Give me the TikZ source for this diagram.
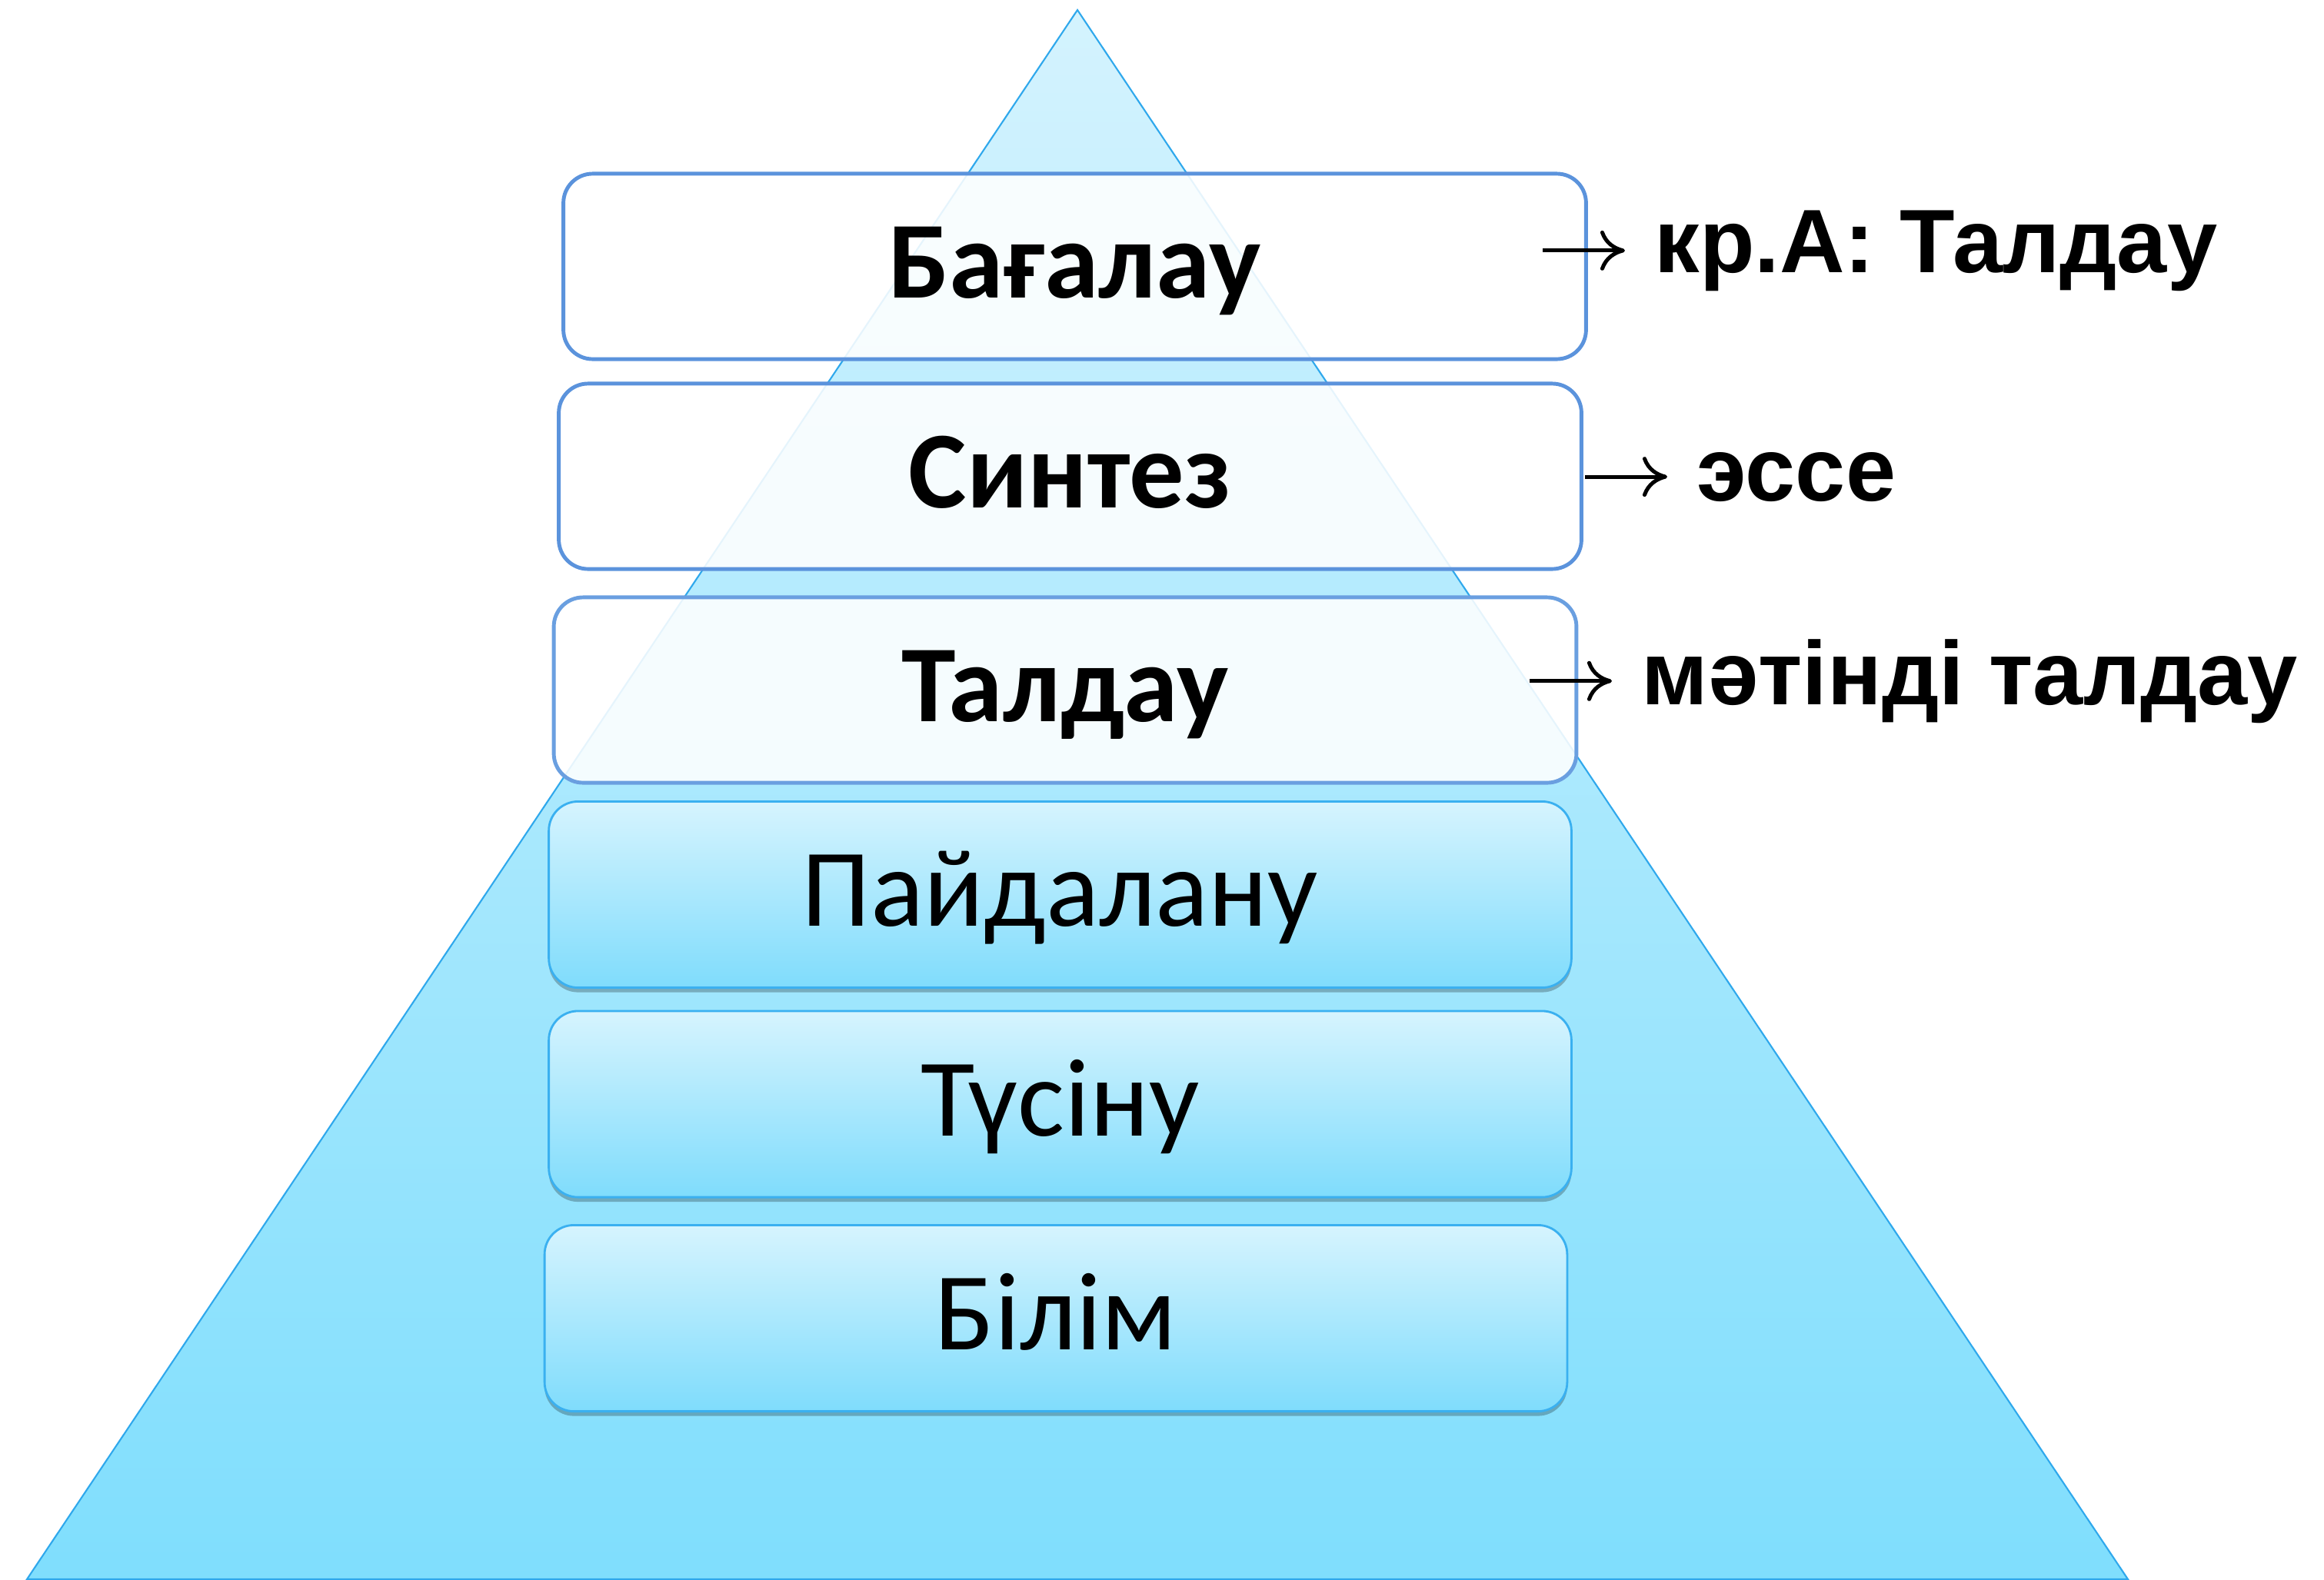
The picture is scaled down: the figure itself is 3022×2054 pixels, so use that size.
\documentclass[tikz,border=0pt]{standalone}
\usepackage{fontspec}
\setmainfont{Carlito}
\newfontfamily\labfont{Liberation Sans}
\usetikzlibrary{arrows.meta,shadows}
\definecolor{tritop}{HTML}{D4F3FE}
\definecolor{tribot}{HTML}{7FDEFD}
\definecolor{triedge}{HTML}{2FA8EC}
\definecolor{upedge}{HTML}{5B93DC}
\definecolor{upedgeb}{HTML}{6A9FE0}
\definecolor{lowtop}{HTML}{D6F4FE}
\definecolor{lowbot}{HTML}{7FDCFC}
\definecolor{lowedge}{HTML}{3AB0F0}
\begin{document}
\begin{tikzpicture}[x=0.01cm,y=-0.01cm,
  upbox/.style={rectangle, rounded corners=0.38cm, minimum width=13.29cm, minimum height=2.41cm,
    inner sep=0pt, text height=1.1cm, text depth=0.28cm,
    draw=upedge, line width=1.4pt, fill=white, fill opacity=0.88, text opacity=1,
    font=\bfseries\fontsize{40.5}{41}\selectfont},
  lowbox/.style={rectangle, rounded corners=0.38cm, minimum width=13.29cm, minimum height=2.42cm,
    inner sep=0pt, text height=1.1cm, text depth=0.28cm,
    draw=lowedge, line width=0.8pt, top color=lowtop, bottom color=lowbot,
    drop shadow={shadow xshift=0pt, shadow yshift=-0.06cm, opacity=0.25, fill=black},
    font=\fontsize{41}{41}\selectfont},
  lab/.style={inner sep=0pt, font=\labfont\bfseries\fontsize{33.3}{34}\selectfont},
  arr/.style={line width=0.05cm, -{Computer Modern Rightarrow[length=0.32cm, width=0.52cm]}, shorten >=0.38cm}
]
\useasboundingbox (0,0) rectangle (3022,2054);
% pyramid
\path[top color=tritop, bottom color=tribot, draw=triedge, line width=0.6pt]
  (1401,13) -- (2767,2054) -- (35,2054) -- cycle;
% upper boxes
\node[upbox] (b1) at (1397.5,346.5) {Бағалау};
\node[upbox] (b2) at (1391.5,619.5) {Синтез};
\node[upbox, draw=upedgeb] (b3) at (1385,897.5) {Талдау};
% lower boxes
\node[lowbox] (b4) at (1378.5,1163.5) {Пайдалану};
\node[lowbox] (b5) at (1378.5,1436) {Түсіну};
\node[lowbox] (b6) at (1373,1714.5) {Білім};
% labels
\node[lab, anchor=base west] (l1) at (2151,354) {кр.А: Талдау};
\node[lab, anchor=base west] (l2) at (2206,651) {эссе};
\node[lab, anchor=base west] (l3) at (2134,916) {мәтінді талдау};
% arrows
\coordinate (a1) at (2006,324);
\coordinate (a2) at (2061,621);
\coordinate (a3) at (1989,885);
\draw[arr] (a1 |- l1.west) -- (l1.west);
\draw[arr] (a2 |- l2.west) -- (l2.west);
\draw[arr] (a3 |- l3.west) -- (l3.west);
\end{tikzpicture}
\end{document}
